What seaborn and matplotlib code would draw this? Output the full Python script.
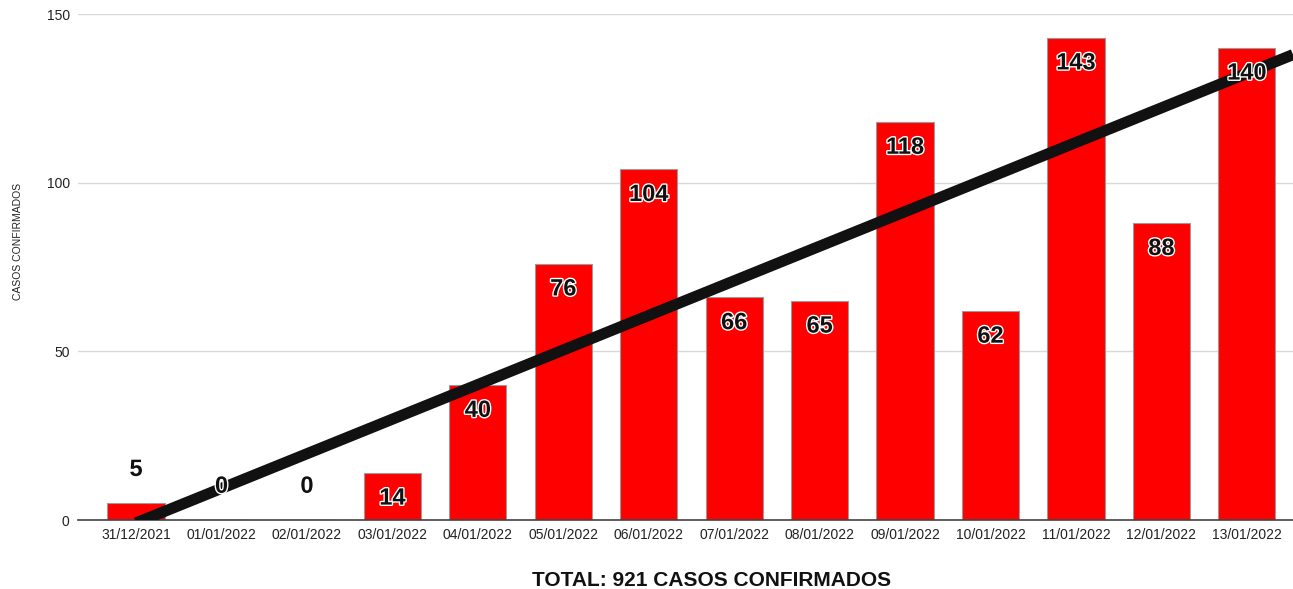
import numpy as np
import pandas as pd
import seaborn as sns
from matplotlib import pyplot as plt
from matplotlib import patheffects as pe

dates = ["31/12/2021", "01/01/2022", "02/01/2022", "03/01/2022", "04/01/2022",
         "05/01/2022", "06/01/2022", "07/01/2022", "08/01/2022", "09/01/2022",
         "10/01/2022", "11/01/2022", "12/01/2022", "13/01/2022"]
cases = [5, 0, 0, 14, 40, 76, 104, 66, 65, 118, 62, 143, 88, 140]
yticks = [0, 50, 100, 150]

sns.set_theme(style="white")
plt.rcParams["font.family"] = ["Liberation Sans", "DejaVu Sans"]

df = pd.DataFrame({"data": dates, "casos": cases})

fig = plt.figure(figsize=(12.93, 5.89), dpi=100)
ax = fig.add_axes([0.0603, 0.1171, 0.9397, 0.8591])

sns.barplot(data=df, x="data", y="casos", color="#ff0000", saturation=1,
            width=0.67, edgecolor="#9a9a9a", linewidth=0.8, ax=ax, zorder=2)

ax.set_xlim(-0.68, 13.54)
ax.set_ylim(0, 150)
ax.set_yticks(yticks)
ax.grid(axis="y", color="#d9d9d9", linewidth=1, zorder=0)
ax.set_axisbelow(True)
for s in ["top", "right", "left"]:
    ax.spines[s].set_visible(False)
ax.spines["bottom"].set_color("#444444")
ax.spines["bottom"].set_linewidth(1.2)
ax.tick_params(axis="both", length=0, labelsize=10, colors="#222222", pad=6)
ax.set_xlabel("")
ax.set_ylabel("CASOS CONFIRMADOS", fontsize=7.5, color="#222222")
ax.yaxis.set_label_coords(-0.045, 0.55)

# linear trendline
x = np.arange(len(cases))
k, b = np.polyfit(x, cases, 1)
xs = np.array([0, 13.54])
ax.plot(xs, k * xs + b, color="#111111", linewidth=8, solid_capstyle="butt",
        zorder=3)

# value labels
stroke = [pe.withStroke(linewidth=2, foreground="white")]
for i, v in enumerate(cases):
    yy = v + 10 if v < 10 else v - 7.5
    ax.text(i, yy, str(v), ha="center", va="center", fontsize=17,
            fontweight="bold", color="#111111", zorder=4, path_effects=stroke)

fig.text(712 / 1293, 1 - 580 / 589, "TOTAL: 921 CASOS CONFIRMADOS",
         ha="center", va="center", fontsize=15, fontweight="bold", color="#111111")

fig.savefig("out.png", dpi=100)
